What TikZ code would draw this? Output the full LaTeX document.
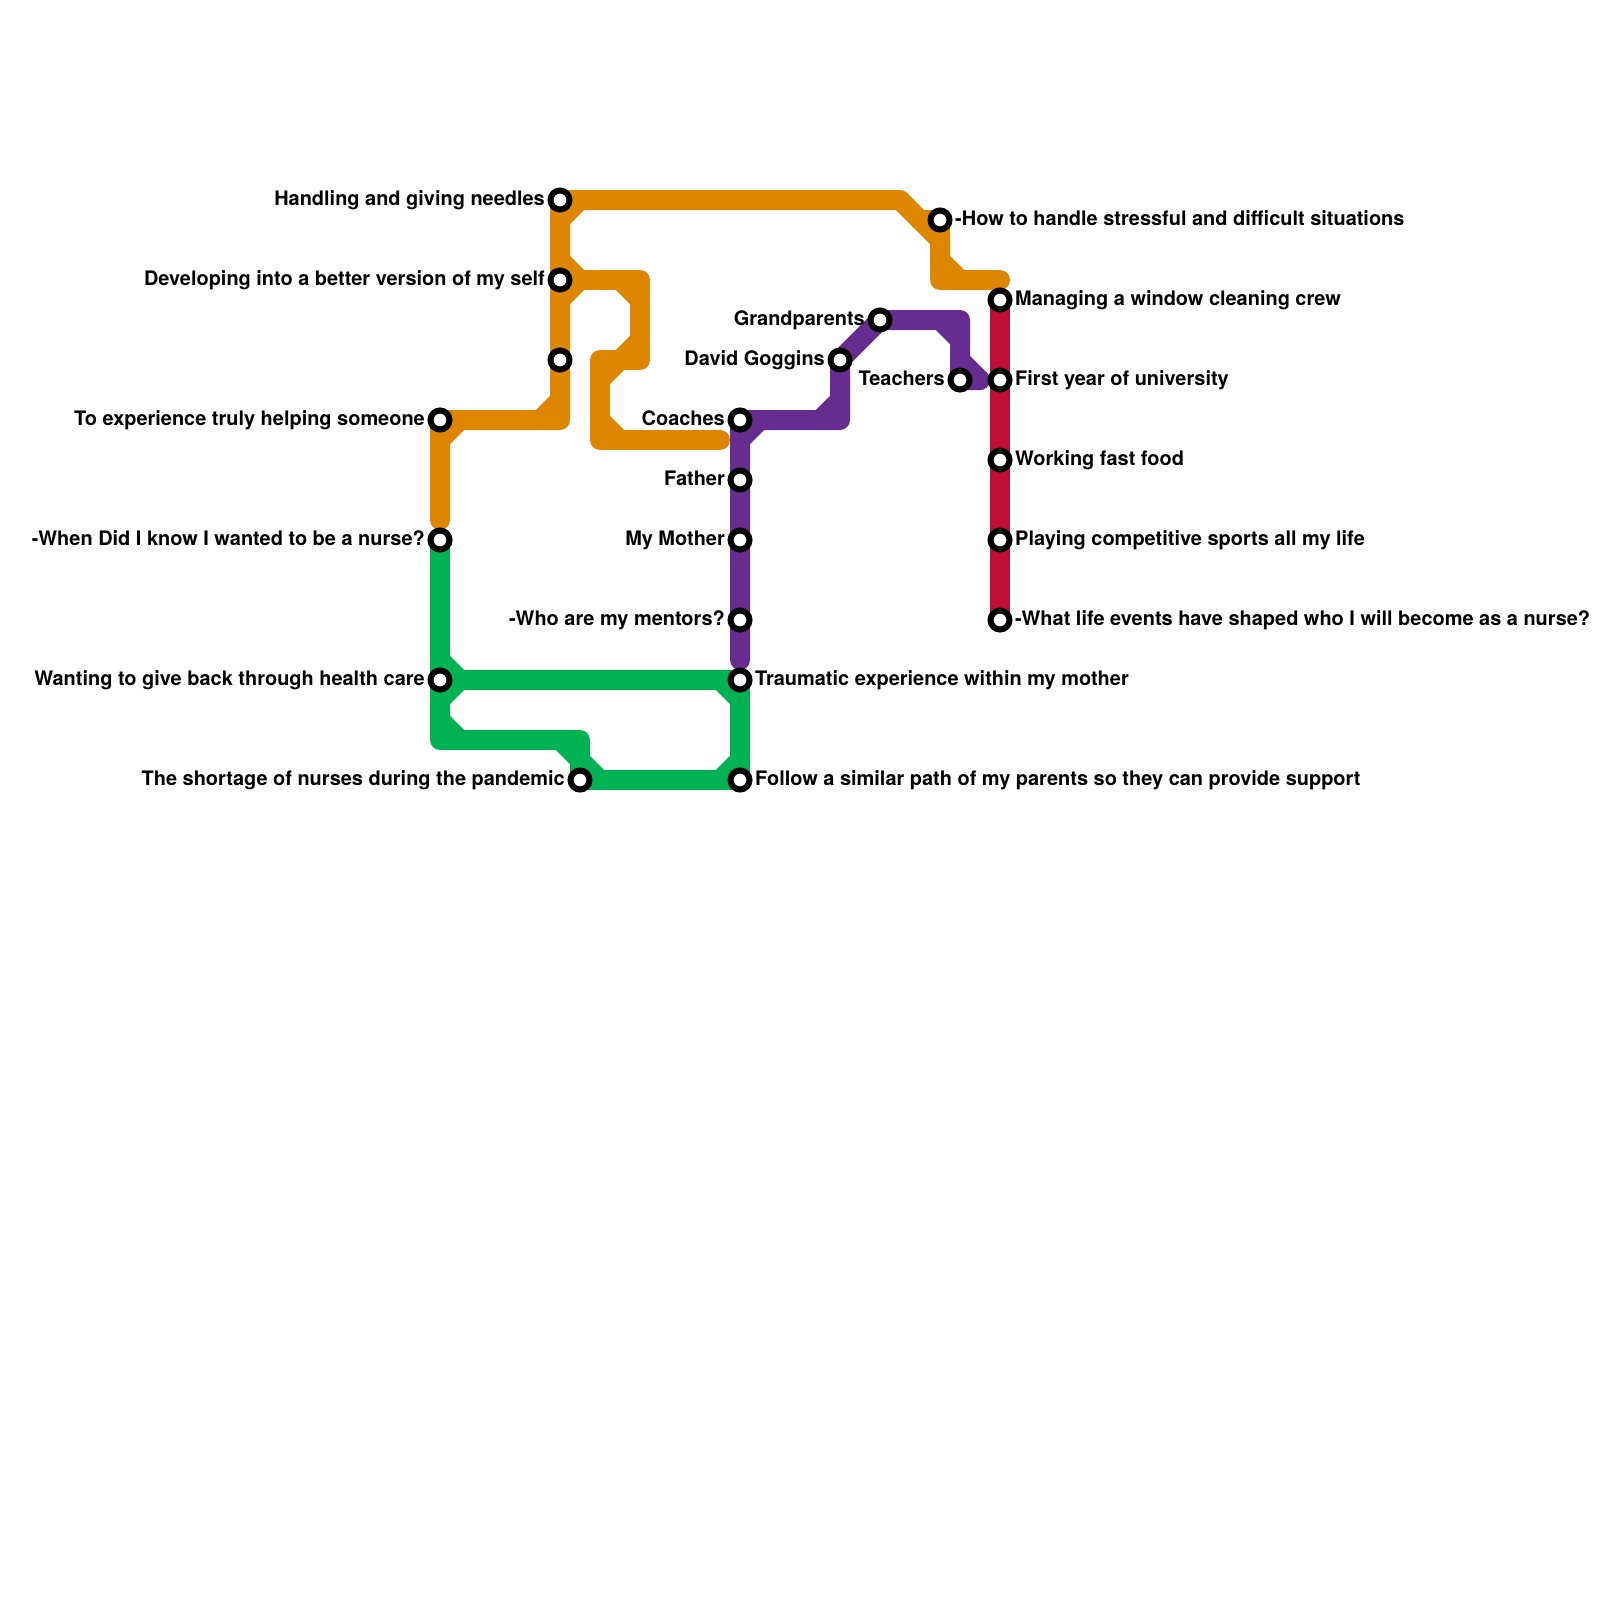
\documentclass[tikz,border=0pt]{standalone}
\usepackage{fontspec}
\setmainfont{TeX Gyre Heros}
\definecolor{orangeL}{HTML}{DF8600}
\definecolor{purpleL}{HTML}{662C90}
\definecolor{greenL}{HTML}{00B251}
\definecolor{redL}{HTML}{BD1038}
\pgfdeclarelayer{lines}
\pgfsetlayers{lines,main}
\tikzset{
  route/.style={line width=20pt,line join=round,line cap=round},
  stn/.style={circle,draw=black,fill=white,line width=6pt,minimum size=19pt,inner sep=0pt,outer sep=0pt},
  lblR/.style={anchor=base west,inner sep=0pt,font=\fontsize{19.95pt}{22pt}\selectfont\bfseries},
  lblL/.style={anchor=base east,inner sep=0pt,font=\fontsize{19.95pt}{22pt}\selectfont\bfseries},
}
% station: name, x, y, side, text
\newcommand{\stR}[4]{\node[stn] (#1) at (#2,#3) {}; \node[lblR] (#1t) at (#2+15,#3+5) {#4};}
\newcommand{\stL}[4]{\node[stn] (#1) at (#2,#3) {}; \node[lblL] (#1t) at (#2-15,#3+5) {#4};}
% chamfer inside a corner: corner, dx, dy
\newcommand{\cham}[3]{\draw (#1)+(#2,0) -- +(0,#3);}
\begin{document}
\begin{tikzpicture}[x=1pt,y=-1pt]
\useasboundingbox (0,0) rectangle (1600,1600);
% stations
\stL{needles}{560}{200}{Handling and giving needles}
\stL{self}{560}{280}{Developing into a better version of my self}
\node[stn] (blank) at (560,360) {};
\stL{helping}{440}{420}{To experience truly helping someone}
\stL{when}{440}{540}{-When Did I know I wanted to be a nurse?}
\stL{giveback}{440}{680}{Wanting to give back through health care}
\stL{shortage}{580}{780}{The shortage of nurses during the pandemic}
\stR{follow}{740}{780}{Follow a similar path of my parents so they can provide support}
\stR{trauma}{740}{680}{Traumatic experience within my mother}
\stL{mentors}{740}{620}{-Who are my mentors?}
\stL{mother}{740}{540}{My Mother}
\stL{father}{740}{480}{Father}
\stL{coaches}{740}{420}{Coaches}
\stL{goggins}{840}{360}{David Goggins}
\stL{grand}{880}{320}{Grandparents}
\stL{teachers}{960}{380}{Teachers}
\stR{stress}{940}{220}{-How to handle stressful and difficult situations}
\stR{window}{1000}{300}{Managing a window cleaning crew}
\stR{first}{1000}{380}{First year of university}
\stR{fast}{1000}{460}{Working fast food}
\stR{sports}{1000}{540}{Playing competitive sports all my life}
\stR{events}{1000}{620}{-What life events have shaped who I will become as a nurse?}
% corners and free ends
\coordinate (oStart) at (440,520);
\coordinate (oA) at (560,420);
\coordinate (oB) at (900,200);
\coordinate (oC) at (920,220);
\coordinate (oD) at (940,240);
\coordinate (oE) at (940,280);
\coordinate (oEnd) at (1000,280);
\coordinate (pA) at (640,280);
\coordinate (pB) at (640,360);
\coordinate (pC) at (600,360);
\coordinate (pD) at (600,440);
\coordinate (pEnd) at (720,440);
\coordinate (uStart) at (740,660);
\coordinate (uA) at (840,420);
\coordinate (uB) at (960,320);
\coordinate (uEnd) at (980,380);
\coordinate (gA) at (440,740);
\coordinate (gB) at (580,740);
\begin{pgfonlayer}{lines}
\begin{scope}[route,draw=purpleL]
  \draw (uStart) -- (coaches.center) -- (uA) -- (goggins.center) -- (grand.center) -- (uB) -- (teachers.center) -- (uEnd);
  \cham{coaches.center}{20}{20}
  \cham{uA}{-20}{-20}
  \cham{uB}{-20}{20}
  \cham{teachers.center}{20}{-20}
\end{scope}
\begin{scope}[route,draw=greenL]
  \draw (when.center) -- (gA) -- (gB) -- (shortage.center) -- (follow.center) -- (trauma.center) -- (giveback.center);
  \cham{giveback.center}{20}{-20}
  \cham{giveback.center}{20}{20}
  \cham{gA}{20}{-20}
  \cham{gB}{-20}{20}
  \cham{shortage.center}{20}{-20}
  \cham{trauma.center}{-20}{20}
  \cham{follow.center}{-20}{-20}
\end{scope}
\begin{scope}[route,draw=orangeL]
  \draw (oStart) -- (helping.center) -- (oA) -- (blank.center) -- (self.center) -- (needles.center) -- (oB) -- (oD) -- (oE) -- (oEnd);
  \draw (oC) -- (stress.center) -- (oD);
  \draw (self.center) -- (pA) -- (pB) -- (pC) -- (pD) -- (pEnd);
  \cham{helping.center}{20}{20}
  \cham{oA}{-20}{-20}
  \cham{needles.center}{20}{20}
  \cham{self.center}{20}{-20}
  \cham{self.center}{20}{20}
  \cham{pA}{-20}{20}
  \cham{pB}{-20}{-20}
  \cham{pC}{20}{20}
  \cham{pD}{20}{-20}
  \cham{oE}{20}{-20}
\end{scope}
\begin{scope}[route,draw=redL]
  \draw (window.center) -- (events.center);
\end{scope}
\end{pgfonlayer}
\end{tikzpicture}
\end{document}
